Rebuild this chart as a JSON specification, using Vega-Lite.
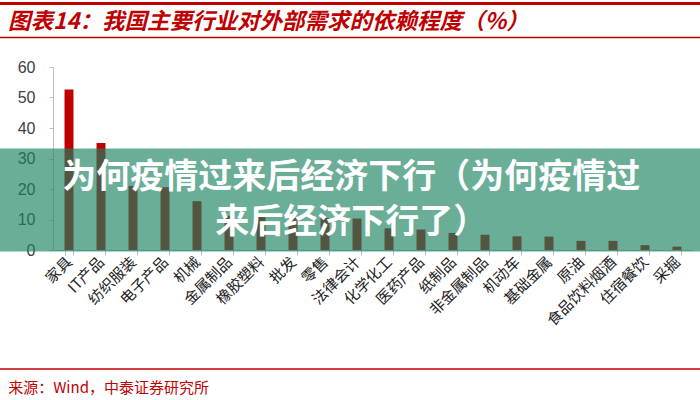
{
  "$schema": "https://vega.github.io/schema/vega-lite/v6.json",
  "width": 640,
  "height": 183,
  "autosize": "none",
  "padding": {"left": 53, "top": 67, "right": 7, "bottom": 150},
  "background": "white",
  "config": {
    "view": {"stroke": null},
    "font": "Noto Sans CJK SC",
    "axisY": {
      "tickCount": 7, "grid": false,
      "labelFontSize": 16, "labelColor": "#404040", "labelFont": "Liberation Sans",
      "labelPadding": 14, "tickSize": 4, "tickColor": "#bfbfbf", "domainColor": "#bfbfbf"
    }
  },
  "resolve": {"scale": {"x": "independent"}},
  "layer": [
    {
      "data": {"values": [
        {"industry": "家具", "value": 52.6},
        {"industry": "IT产品", "value": 35.1},
        {"industry": "纺织服装", "value": 21.0},
        {"industry": "电子产品", "value": 20.6},
        {"industry": "机械", "value": 16.0},
        {"industry": "金属制品", "value": 11.2},
        {"industry": "橡胶塑料", "value": 11.1},
        {"industry": "批发", "value": 10.6},
        {"industry": "零售", "value": 10.5},
        {"industry": "法律会计", "value": 10.3},
        {"industry": "化学化工", "value": 7.1},
        {"industry": "医药产品", "value": 6.7},
        {"industry": "纸制品", "value": 5.6},
        {"industry": "非金属制品", "value": 5.0},
        {"industry": "机动车", "value": 4.5},
        {"industry": "基础金属", "value": 4.4},
        {"industry": "原油", "value": 3.0},
        {"industry": "食品饮料烟酒", "value": 3.0},
        {"industry": "住宿餐饮", "value": 1.6},
        {"industry": "采掘", "value": 1.1}
      ]},
      "mark": {"type": "bar", "color": "#c00000"},
      "encoding": {
        "x": {
          "field": "industry", "type": "nominal", "sort": null,
          "scale": {"paddingInner": 0.72, "paddingOuter": 0.36},
          "axis": {
            "title": null, "labelAngle": -45, "labelAlign": "right", "labelBaseline": "middle",
            "labelFontSize": 15, "labelColor": "#222222", "labelPadding": 4,
            "tickBand": "extent", "tickSize": 5, "tickColor": "#bfbfbf",
            "domainColor": "#bfbfbf", "labelFont": "Noto Sans CJK SC"
          }
        },
        "y": {
          "field": "value", "type": "quantitative", "title": null,
          "scale": {"domain": [0, 60]}
        }
      }
    },
    {
      "data": {"values": [{}]},
      "mark": {"type": "rect", "color": "#1a8361", "opacity": 0.65},
      "encoding": {
        "x": {"datum": -0.083, "type": "quantitative", "scale": {"domain": [0, 1]}, "axis": null},
        "x2": {"datum": 1.011},
        "y": {"datum": 33.3, "type": "quantitative", "title": null},
        "y2": {"datum": -0.5}
      }
    },
    {
      "data": {"values": [{"caption": "为何疫情过来后经济下行（为何疫情过\n来后经济下行了）"}]},
      "mark": {"type": "text", "color": "white", "fontSize": 34, "fontWeight": "bold", "font": "Noto Sans CJK SC", "align": "center", "baseline": "middle", "lineBreak": "\n", "lineHeight": 45},
      "encoding": {
        "text": {"field": "caption"},
        "x": {"datum": 0.466, "type": "quantitative", "scale": {"domain": [0, 1]}, "axis": null},
        "y": {"datum": 23.6, "type": "quantitative", "title": null}
      }
    },
    {
      "data": {"values": [{}]},
      "mark": {"type": "rule", "color": "#c00000", "strokeWidth": 3},
      "encoding": {
        "x": {"datum": -0.083, "type": "quantitative", "scale": {"domain": [0, 1]}, "axis": null},
        "x2": {"datum": 1.011},
        "y": {"datum": 80.8, "type": "quantitative", "title": null}
      }
    },
    {
      "data": {"values": [{}]},
      "mark": {"type": "rule", "color": "#c00000", "strokeWidth": 1.5},
      "encoding": {
        "x": {"datum": -0.083, "type": "quantitative", "scale": {"domain": [0, 1]}, "axis": null},
        "x2": {"datum": 1.011},
        "y": {"datum": 69.7, "type": "quantitative", "title": null}
      }
    },
    {
      "data": {"values": [{}]},
      "mark": {"type": "rule", "color": "#c00000", "strokeWidth": 1.5},
      "encoding": {
        "x": {"datum": -0.083, "type": "quantitative", "scale": {"domain": [0, 1]}, "axis": null},
        "x2": {"datum": 1.011},
        "y": {"datum": -39.0, "type": "quantitative", "title": null}
      }
    },
    {
      "data": {"values": [{"heading": "图表14：我国主要行业对外部需求的依赖程度（%）"}]},
      "mark": {"type": "text", "color": "#c00000", "fontSize": 22.5, "fontWeight": "bold", "fontStyle": "italic", "font": "Noto Sans CJK SC", "align": "left", "baseline": "middle"},
      "encoding": {
        "text": {"field": "heading"},
        "x": {"datum": -0.0703, "type": "quantitative", "scale": {"domain": [0, 1]}, "axis": null},
        "y": {"datum": 74.6, "type": "quantitative", "title": null}
      }
    },
    {
      "data": {"values": [{"source": "来源：Wind，中泰证券研究所"}]},
      "mark": {"type": "text", "color": "#c00000", "fontSize": 15, "font": "Noto Sans CJK SC", "align": "left", "baseline": "middle"},
      "encoding": {
        "text": {"field": "source"},
        "x": {"datum": -0.07, "type": "quantitative", "scale": {"domain": [0, 1]}, "axis": null},
        "y": {"datum": -45.1, "type": "quantitative", "title": null}
      }
    }
  ]
}
